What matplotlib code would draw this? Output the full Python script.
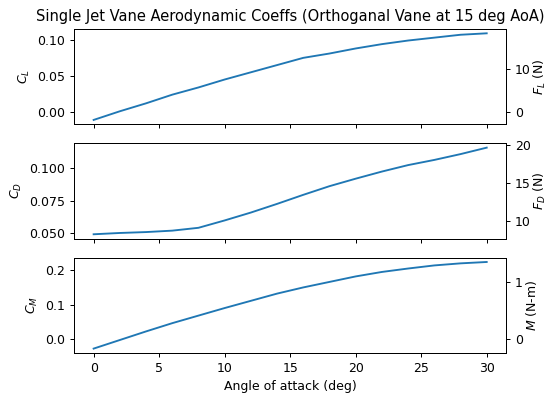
import numpy as np
import matplotlib
matplotlib.use('Agg')
import matplotlib.pyplot as plt

# Angle of attack (deg)
aoa = [0, 2, 4, 6, 8, 10, 12, 14, 16, 18, 20, 22, 24, 26, 28, 30]

# Coefficients
cl = [-0.011, 0.001, 0.012, 0.024, 0.034, 0.045, 0.055, 0.065, 0.075,
      0.081, 0.088, 0.094, 0.099, 0.103, 0.107, 0.109]
cd = [0.0490, 0.0500, 0.0507, 0.0518, 0.0540, 0.0597, 0.0658, 0.0725, 0.0795,
      0.0862, 0.0920, 0.0975, 0.1025, 0.1065, 0.1110, 0.1160]
cm = [-0.028, -0.003, 0.022, 0.046, 0.068, 0.090, 0.111, 0.132, 0.150,
      0.166, 0.182, 0.195, 0.205, 0.214, 0.220, 0.224]

# conversion from coefficient to force / moment (q*S and q*S*c)
qS = 169.0
qSc = 6.08

panels = [
    (cl, r'$C_L$', r'$F_L$ (N)', qS),
    (cd, r'$C_D$', r'$F_D$ (N)', qS),
    (cm, r'$C_M$', r'$M$ (N-m)', qSc),
]

# reference looks like a slightly shrunk default figure
s = 0.9
plt.rcParams.update({
    'font.size': 10 * s,
    'axes.titlesize': 10.5,
    'lines.linewidth': 1.5 * s,
    'axes.linewidth': 0.8 * s,
    'xtick.major.size': 3.5 * s,
    'ytick.major.size': 3.5 * s,
    'xtick.major.width': 0.8 * s,
    'ytick.major.width': 0.8 * s,
    'xtick.major.pad': 3.5 * s,
    'ytick.major.pad': 3.5 * s,
    'axes.labelpad': 4 * s,
    'axes.titlepad': 6 * s,
})

fig, axes = plt.subplots(3, 1, sharex=True, figsize=(5.48, 3.97), dpi=100)
fig.subplots_adjust(left=0.135, right=0.924, top=0.927, bottom=0.111, hspace=0.2)

for ax, (c, lab, flab, k) in zip(axes, panels):
    ax.plot(aoa, c, color='tab:blue')
    ax.set_ylabel(lab)
    ax2 = ax.twinx()
    ax2.set_ylim(np.array(ax.get_ylim()) * k)
    # close to the ticks so the label stays inside the figure
    ax2.set_ylabel(flab, labelpad=0.5)

axes[0].set_title('Single Jet Vane Aerodynamic Coeffs (Orthoganal Vane at 15 deg AoA)')
axes[-1].set_xlabel('Angle of attack (deg)')

fig.savefig('out.png', dpi=100)
